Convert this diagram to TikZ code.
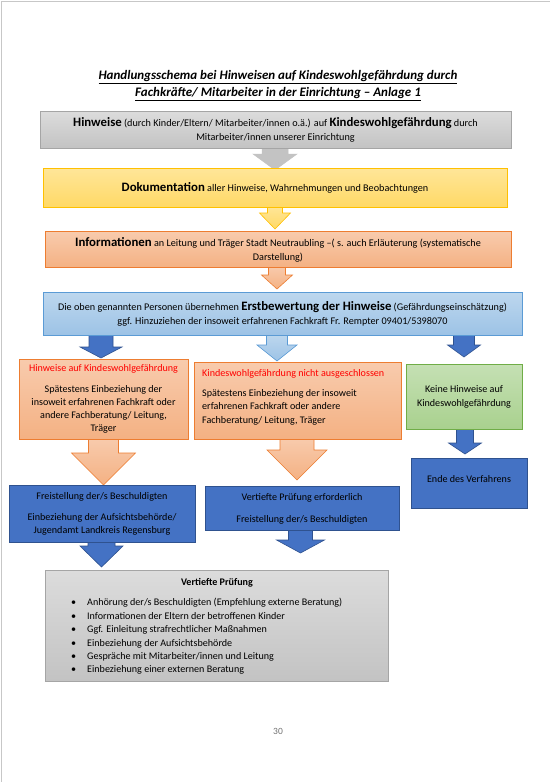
\documentclass[tikz,border=0pt]{standalone}
\usepackage{fontspec}
\setmainfont{Carlito}
\newcommand\Hbig[1]{{\fontsize{12.8}{14}\selectfont\bfseries #1}}
\newcommand\Hsm[1]{{\fontsize{10.2}{14}\selectfont #1}}
\newcommand\barrow[8]{% style, xc, ytop, yhead, ytip, shafthalf, headhalf
  \draw[#1] ({#2-#6},#3) -- ({#2+#6},#3) -- ({#2+#6},#4) -- ({#2+#7},#4) -- (#2,#5) -- ({#2-#7},#4) -- ({#2-#6},#4) -- cycle;}
\definecolor{grayT}{HTML}{DCDCDC}
\definecolor{grayB}{HTML}{C3C3C3}
\definecolor{grayL}{HTML}{A5A5A5}
\definecolor{yelT}{HTML}{FFE699}
\definecolor{yelB}{HTML}{FFD966}
\definecolor{yelL}{HTML}{FFC000}
\definecolor{salT}{HTML}{F8CBAD}
\definecolor{salB}{HTML}{F4B183}
\definecolor{salL}{HTML}{ED7D31}
\definecolor{bluT}{HTML}{BDD7EE}
\definecolor{bluB}{HTML}{9DC3E6}
\definecolor{bluL}{HTML}{5B9BD5}
\definecolor{grnT}{HTML}{C5E0B4}
\definecolor{grnB}{HTML}{A9D18E}
\definecolor{grnL}{HTML}{70AD47}
\definecolor{dblue}{HTML}{4472C4}
\definecolor{dblueL}{HTML}{2F528F}
\definecolor{redT}{HTML}{FF0000}
\begin{document}
\begin{tikzpicture}[x=1pt,y=-1pt,
  box/.style={draw, line width=0.8pt, inner sep=0pt, align=center,
    font=\fontsize{10.2}{14}\selectfont},
  graybox/.style={box, top color=grayT, bottom color=grayB, draw=grayL},
  yelbox/.style={box, top color=yelT, bottom color=yelB, draw=yelL},
  salbox/.style={box, top color=salT, bottom color=salB, draw=salL},
  blubox/.style={box, top color=bluT, bottom color=bluB, draw=bluL},
  grnbox/.style={box, top color=grnT, bottom color=grnB, draw=grnL},
  dbbox/.style={box, fill=dblue, draw=dblueL},
  grayarr/.style={fill=grayB, draw=grayB, line width=0.5pt},
  yelarr/.style={top color=yelT, bottom color=yelB, draw=yelL, line width=0.6pt},
  salarr/.style={top color=salT, bottom color=salB, draw=salL, line width=0.6pt},
  bluarr/.style={top color=bluT, bottom color=bluB, draw=bluL, line width=0.6pt},
  dbarr/.style={fill=dblue, draw=dblueL, line width=0.6pt},
  lowtext/.style={font=\fontsize{10.1}{13}\selectfont}
]
\useasboundingbox (0,0) rectangle (550,782);
\fill[white] (0,0) rectangle (550,782);
\draw[black!22, line width=1pt] (1.5,782) -- (1.5,1.5) -- (550,1.5);

% title
\node[font=\fontsize{13}{17}\selectfont\bfseries\itshape, align=center] (title) at (278,86)
  {\underline{Handlungsschema bei Hinweisen auf Kindeswohlgefährdung durch}\\
   \underline{Fachkräfte/ Mitarbeiter in der Einrichtung – Anlage 1}};

% block arrows (drawn first, boxes overlap their ends)
\barrow{grayarr}{275}{146}{154}{170}{13}{22}{}
\barrow{yelarr}{275}{206}{213}{229}{7.5}{15.5}{}
\barrow{salarr}{277}{266}{275}{289}{8.5}{15.5}{}
\barrow{dbarr}{101}{334}{347}{358}{12}{21}{}
\barrow{bluarr}{277}{334}{345}{361}{10.5}{20}{}
\barrow{dbarr}{464}{334}{345}{357}{10.5}{16.5}{}
\barrow{salarr}{103.5}{438}{453}{485}{15}{32}{}
\barrow{salarr}{297}{438}{450}{480}{17}{30}{}
\barrow{dbarr}{465}{429}{443}{454}{8.5}{16.5}{}
\barrow{dbarr}{101.5}{541}{546}{567}{13.5}{21.5}{}
\barrow{dbarr}{300.5}{529}{540}{553}{12}{24}{}

% boxes
\node[graybox, minimum width=471, minimum height=37] (hin) at (275.5,129.5)
  {\Hbig{Hinweise} \Hsm{(durch Kinder/Eltern/ Mitarbeiter/innen o.ä.) auf} \Hbig{Kindeswohlgefährdung} \Hsm{durch}\\
   \Hsm{Mitarbeiter/innen unserer Einrichtung}};

\node[yelbox, minimum width=464, minimum height=39] (doku) at (275,187.5)
  {\Hbig{Dokumentation} \Hsm{aller Hinweise, Wahrnehmungen und Beobachtungen}};

\node[salbox, minimum width=466, minimum height=36] (info) at (278,249.5)
  {\Hbig{Informationen} \Hsm{an Leitung und Träger Stadt Neutraubling –( s. auch Erläuterung (systematische}\\
   \Hsm{Darstellung)}};

\node[blubox, minimum width=479, minimum height=43] (erst) at (282.5,313.5)
  {\Hsm{Die oben genannten Personen übernehmen} \Hbig{Erstbewertung der Hinweise} \Hsm{(Gefährdungseinschätzung)}\\
   \Hsm{ggf. Hinzuziehen der insoweit erfahrenen Fachkraft Fr. Rempter 09401/5398070}};

\node[salbox, minimum width=169, minimum height=80, lowtext] (lbox) at (103.5,399)
  {\textcolor{redT}{Hinweise auf Kindeswohlgefährdung}\\[8pt]
   Spätestens Einbeziehung der\\
   insoweit erfahrenen Fachkraft oder\\
   andere Fachberatung/ Leitung,\\
   Träger};

\node[salbox, minimum width=207, minimum height=77] (mbox) at (297.5,400.5) {};
\node[lowtext, font=\fontsize{10.1}{13.6}\selectfont, align=left, anchor=north west, inner sep=0pt] (mboxt) at (202,369)
  {\textcolor{redT}{Kindeswohlgefährdung nicht ausgeschlossen}\\[6.5pt]
   Spätestens Einbeziehung der insoweit\\
   erfahrenen Fachkraft oder andere\\
   Fachberatung/ Leitung, Träger};

\node[grnbox, minimum width=116, minimum height=65, lowtext, font=\fontsize{10.1}{14}\selectfont] (gbox) at (464,396.5)
  {Keine Hinweise auf\\Kindeswohlgefährdung};

\node[dbbox, minimum width=116, minimum height=50, lowtext, text depth=9pt] (ende) at (469,483)
  {Ende des Verfahrens};

\node[dbbox, minimum width=186, minimum height=57, lowtext] (lblue) at (102,513.5)
  {Freistellung der/s Beschuldigten\\[8pt]
   Einbeziehung der Aufsichtsbehörde/\\
   Jugendamt Landkreis Regensburg};

\node[dbbox, minimum width=194, minimum height=44, lowtext] (mblue) at (302,508.5)
  {Vertiefte Prüfung erforderlich\\[9pt]
   Freistellung der/s Beschuldigten};

\node[graybox, minimum width=343, minimum height=111] (vp) at (216.5,625.5) {};
\node[font=\fontsize{10.1}{13}\selectfont\bfseries] (vpt) at (217,583) {Vertiefte Prüfung};
\node[font=\fontsize{10.1}{13.4}\selectfont, align=left, anchor=west, inner sep=0pt] (vpl) at (71,636.5)
  {\makebox[16pt][l]{•}Anhörung der/s Beschuldigten (Empfehlung externe Beratung)\\
   \makebox[16pt][l]{•}Informationen der Eltern der betroffenen Kinder\\
   \makebox[16pt][l]{•}Ggf. Einleitung strafrechtlicher Maßnahmen\\
   \makebox[16pt][l]{•}Einbeziehung der Aufsichtsbehörde\\
   \makebox[16pt][l]{•}Gespräche mit Mitarbeiter/innen und Leitung\\
   \makebox[16pt][l]{•}Einbeziehung einer externen Beratung};

\node[font=\fontsize{9.5}{11}\selectfont, text=black!55] (page) at (278,731) {30};
\end{tikzpicture}
\end{document}
